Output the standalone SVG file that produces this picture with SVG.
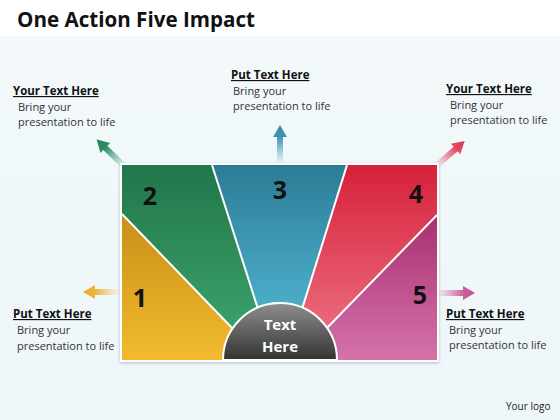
<svg xmlns="http://www.w3.org/2000/svg" width="560" height="420" viewBox="0 0 560 420">
<defs>
<linearGradient id="bg" x1="0" y1="0" x2="0" y2="1"><stop offset="0" stop-color="#f3f9fb"/><stop offset="1" stop-color="#eef6f9"/></linearGradient>
<linearGradient id="g1" x1="0" y1="0" x2="0" y2="1"><stop offset="0" stop-color="#c98e18"/><stop offset="1" stop-color="#f2bb2e"/></linearGradient>
<linearGradient id="g2" x1="0" y1="0" x2="0" y2="1"><stop offset="0" stop-color="#21764a"/><stop offset="1" stop-color="#3aa068"/></linearGradient>
<linearGradient id="g3" x1="0" y1="0" x2="0" y2="1"><stop offset="0" stop-color="#2c7c96"/><stop offset="1" stop-color="#4caeca"/></linearGradient>
<linearGradient id="g4" x1="0" y1="0" x2="0" y2="1"><stop offset="0" stop-color="#d6213a"/><stop offset="1" stop-color="#ea6a7c"/></linearGradient>
<linearGradient id="g5" x1="0" y1="0" x2="0" y2="1"><stop offset="0" stop-color="#a8306f"/><stop offset="1" stop-color="#d473aa"/></linearGradient>
<linearGradient id="gc" x1="0" y1="0" x2="0" y2="1"><stop offset="0" stop-color="#8e8e8e"/><stop offset="1" stop-color="#333"/></linearGradient>
<linearGradient id="ag" gradientUnits="userSpaceOnUse" x1="0" y1="0" x2="38" y2="0"><stop offset="0" stop-color="#3aa070" stop-opacity="0.05"/><stop offset="0.7" stop-color="#2f8a60"/><stop offset="1" stop-color="#2a805a"/></linearGradient>
<linearGradient id="ab" gradientUnits="userSpaceOnUse" x1="0" y1="0" x2="38" y2="0"><stop offset="0" stop-color="#4aa6c0" stop-opacity="0.05"/><stop offset="0.7" stop-color="#3e94ae"/><stop offset="1" stop-color="#3a8ca6"/></linearGradient>
<linearGradient id="ar" gradientUnits="userSpaceOnUse" x1="0" y1="0" x2="38" y2="0"><stop offset="0" stop-color="#e86478" stop-opacity="0.05"/><stop offset="0.7" stop-color="#e04a62"/><stop offset="1" stop-color="#dc3a55"/></linearGradient>
<linearGradient id="ay" gradientUnits="userSpaceOnUse" x1="0" y1="0" x2="38" y2="0"><stop offset="0" stop-color="#f4c860" stop-opacity="0.05"/><stop offset="0.7" stop-color="#ecb43a"/><stop offset="1" stop-color="#e8aa2c"/></linearGradient>
<linearGradient id="am" gradientUnits="userSpaceOnUse" x1="0" y1="0" x2="38" y2="0"><stop offset="0" stop-color="#d878b0" stop-opacity="0.05"/><stop offset="0.7" stop-color="#cc5e9e"/><stop offset="1" stop-color="#c45094"/></linearGradient>
<path id="arr" d="M0,-3 L26,-3 L26,-7 L38,0 L26,7 L26,3 L0,3 Z"/>
<filter id="sh" x="-5%" y="-5%" width="110%" height="110%"><feDropShadow dx="0" dy="1" stdDeviation="1.5" flood-color="#000" flood-opacity="0.25"/></filter>
</defs>
<style>
.t{font-family:"Open Sans","Liberation Sans",sans-serif;}
.h{font-family:"Open Sans","Liberation Sans",sans-serif;font-weight:bold;font-size:11.5px;fill:#111;text-decoration:underline;}
.b{font-family:"Open Sans","Liberation Sans",sans-serif;font-size:11px;fill:#333;}
.n{font-family:"Open Sans","Liberation Sans",sans-serif;font-weight:bold;font-size:25px;fill:#111;text-anchor:middle;}
.sep{stroke:#fff;stroke-width:2;}
</style>
<rect width="560" height="420" fill="url(#bg)"/>
<rect width="560" height="36" fill="#fff"/>
<text class="t" x="17" y="27" font-size="20.6" font-weight="bold" fill="#111">One Action Five Impact</text>

<g id="arrows">
<use href="#arr" fill="url(#ag)" transform="translate(124,166) rotate(-136)"/>
<use href="#arr" fill="url(#ab)" transform="translate(280,163) rotate(-90)"/>
<use href="#arr" fill="url(#ar)" transform="translate(436,166) rotate(-41)"/>
<use href="#arr" fill="url(#ay)" transform="translate(121,292) rotate(180)"/>
<use href="#arr" fill="url(#am)" transform="translate(437,293)"/>
</g>

<g id="panel" filter="url(#sh)">
<rect x="120" y="163" width="319" height="199" fill="#fff"/>
</g>
<g id="seg1"><path d="M122,214 L232,328 L238,360 L122,360 Z" fill="url(#g1)"/></g>
<g id="seg2"><path d="M122,165 L212,165 L257,308 L232,328 L122,214 Z" fill="url(#g2)"/></g>
<g id="seg3"><path d="M212,165 L347,165 L303,308 L280,304 L257,308 Z" fill="url(#g3)"/></g>
<g id="seg4"><path d="M347,165 L437,165 L437,215 L327,328 L303,308 Z" fill="url(#g4)"/></g>
<g id="seg5"><path d="M437,215 L437,360 L322,360 L327,328 Z" fill="url(#g5)"/></g>
<g id="lines">
<line class="sep" x1="122" y1="214" x2="234" y2="330"/>
<line class="sep" x1="212" y1="165" x2="258" y2="309"/>
<line class="sep" x1="347" y1="165" x2="302" y2="309"/>
<line class="sep" x1="437" y1="215" x2="325" y2="330"/>
</g>
<g id="center">
<path d="M223,360 A57,57 0 0 1 337,360 Z" fill="url(#gc)" stroke="#fff" stroke-width="2"/>
<text class="t" x="280" y="330" font-size="15" font-weight="bold" fill="#fff" text-anchor="middle">Text</text>
<text class="t" x="280" y="352" font-size="15" font-weight="bold" fill="#fff" text-anchor="middle">Here</text>
</g>
<g id="nums">
<text class="n" x="140" y="307">1</text>
<text class="n" x="150" y="205">2</text>
<text class="n" x="280" y="199">3</text>
<text class="n" x="416" y="203">4</text>
<text class="n" x="420" y="304">5</text>
</g>

<g id="label1">
<text class="h" x="13" y="95">Your Text Here</text>
<text class="b" x="18" y="111">Bring your</text>
<text class="b" x="18" y="126">presentation to life</text>
</g>
<g id="label2">
<text class="h" x="231" y="79"> Put Text Here</text>
<text class="b" x="233" y="95">Bring your</text>
<text class="b" x="233" y="110">presentation to life</text>
</g>
<g id="label3">
<text class="h" x="446" y="93">Your Text Here</text>
<text class="b" x="450" y="109">Bring your</text>
<text class="b" x="450" y="124">presentation to life</text>
</g>
<g id="label4">
<text class="h" x="13" y="318"> Put Text Here</text>
<text class="b" x="17" y="334">Bring your</text>
<text class="b" x="17" y="350">presentation to life</text>
</g>
<g id="label5">
<text class="h" x="446" y="318"> Put Text Here</text>
<text class="b" x="449" y="334">Bring your</text>
<text class="b" x="449" y="349">presentation to life</text>
</g>
<text class="t" x="506" y="410" font-size="10" fill="#222">Your logo</text>
</svg>
